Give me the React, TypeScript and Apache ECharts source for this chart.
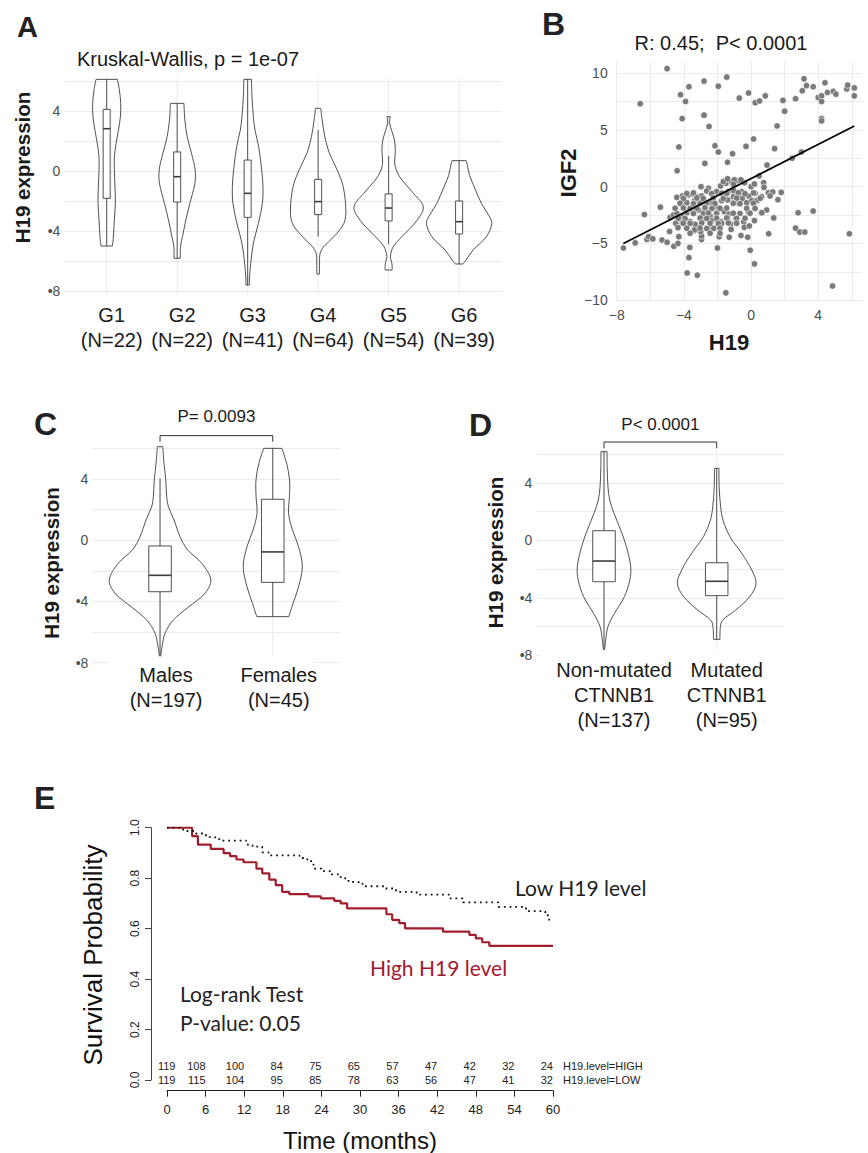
import React, { useEffect, useRef } from 'react';
import * as echarts from 'echarts';

const FONT = "'Liberation Sans', Arial, Helvetica, sans-serif";
const NARROW = "'Liberation Sans Narrow', 'Liberation Sans', Arial, sans-serif";
const CAL = "Lato, 'Open Sans', sans-serif";
const INK = '#1a1a1a';
const GRID = '#ebebeb';
const TICK = '#4d4d4d';

// ---------------- Panel A : H19 by group ----------------
const groupsA = ['G1', 'G2', 'G3', 'G4', 'G5', 'G6'];
const countsA = [22, 22, 41, 64, 54, 39];
// violin outlines: [H19 value, half width]
const violinG1 = [[6.11, 0.152], [5.4, 0.18], [4.5, 0.199], [3.6, 0.194], [2.7, 0.166], [1.8, 0.132], [0.95, 0.109], [0.05, 0.109], [-1.05, 0.118], [-2.15, 0.123], [-3.25, 0.109], [-4.4, 0.095], [-5.0, 0.081]];
const violinG2 = [[4.51, 0.096], [3.4, 0.109], [2.29, 0.142], [1.18, 0.203], [0.07, 0.255], [-0.82, 0.251], [-2.16, 0.18], [-3.27, 0.123], [-4.38, 0.075], [-5.04, 0.047], [-5.82, 0.045]];
const violinG3 = [[6.11, 0.054], [4.96, 0.061], [3.62, 0.081], [2.73, 0.104], [1.62, 0.156], [0.07, 0.199], [-1.04, 0.217], [-2.16, 0.209], [-3.49, 0.152], [-4.82, 0.081], [-6.16, 0.043], [-7.27, 0.024], [-7.6, 0.026]];
const violinG4 = [[4.18, 0.038], [3.4, 0.057], [2.29, 0.095], [1.18, 0.16], [0.07, 0.27], [-1.04, 0.355], [-2.6, 0.393], [-3.49, 0.365], [-4.38, 0.223], [-5.04, 0.081], [-5.49, 0.028], [-6.2, 0.02], [-6.87, 0.019]];
const violinG5 = [[3.62, 0.024], [3.2, 0.014], [2.6, 0.05], [2.0, 0.085], [1.3, 0.095], [0.6, 0.085], [0.0, 0.113], [-0.6, 0.189], [-1.5, 0.355], [-2.4, 0.492], [-3.3, 0.401], [-4.15, 0.237], [-5.0, 0.071], [-5.7, 0.026], [-6.2, 0.048], [-6.6, 0.05]];
const violinG6 = [[0.69, 0.102], [0.3, 0.121], [-0.3, 0.149], [-1.04, 0.213], [-2.16, 0.316], [-3.0, 0.426], [-3.49, 0.464], [-4.38, 0.387], [-5.27, 0.199], [-5.93, 0.099], [-6.2, 0.054]];
// boxes: [lower whisker, Q1, median, Q3, upper whisker]
const boxesA = [
  [-5.0, -1.82, 2.82, 4.11, 6.11],
  [-5.82, -2.07, -0.38, 1.27, 4.51],
  [-7.6, -3.09, -1.49, 0.73, 6.11],
  [-4.38, -2.91, -2.04, -0.56, 2.73],
  [-4.87, -3.33, -2.47, -1.53, 1.0],
  [-6.2, -4.2, -3.38, -2.0, 0.69],
];

// ---------------- Panel B : IGF2 vs H19 ----------------
const scatterB = [
  // upper points
  [-5.0, 10.4], [-6.6, 7.3], [-4.2, 8.1], [-3.7, 8.8], [-3.9, 7.5], [-4.1, 6.0], [-4.3, 3.5], [-4.4, 1.4],
  [-2.8, 9.3], [-2.8, 6.3], [-2.5, 5.3], [-2.75, 2.05], [-1.45, 9.65], [-1.95, 8.85], [-2.15, 3.6], [-1.95, 3.05],
  [-1.1, 2.9], [-1.4, 2.15], [-0.7, 7.8], [-0.15, 8.25], [-0.3, 3.55], [0.15, 4.2], [0.25, 7.4], [0.5, 7.55],
  [0.85, 8.0], [1.9, 7.6], [2.0, 6.65], [1.55, 5.35], [1.4, 3.35], [0.95, 1.9], [2.45, 2.5], [3.0, 3.05],
  [2.65, 7.75], [3.05, 8.45], [3.15, 9.5], [3.3, 8.9], [3.7, 8.8], [4.0, 7.85], [4.2, 8.0], [4.2, 7.5],
  [4.4, 9.15], [4.55, 8.3], [4.9, 8.4], [5.05, 8.15], [4.2, 6.0], [4.2, 5.8], [5.7, 8.6], [5.75, 8.95],
  [6.15, 8.7], [6.15, 8.0], [0.48, 0.94],
  // lower / scattered points
  [-7.6, -5.4], [-6.9, -4.95], [-6.35, -2.45], [-6.2, -4.65], [-6.1, -4.4], [-5.85, -4.6], [-5.4, -1.8], [-5.3, -4.7],
  [-5.0, -4.9], [-4.85, -3.95], [-4.6, -5.25], [-4.35, -5.0], [-4.3, -4.4], [-3.65, -5.35], [-3.7, -6.25], [-3.8, -7.6],
  [-3.2, -7.8], [-3.35, -3.85], [-2.95, -4.65], [-2.95, -4.35], [-3.0, -3.95], [-2.0, -5.4], [-1.9, -4.4], [-1.5, -9.35],
  [-1.3, -4.45], [-0.6, -4.3], [-0.2, -4.45], [-0.05, -5.6], [0.2, -6.8], [1.05, -4.15], [1.35, -2.75], [1.6, -1.15],
  [1.8, -0.5], [2.8, -2.3], [3.7, -2.15], [2.65, -3.65], [2.9, -4.0], [3.2, -4.0], [5.85, -4.15], [4.85, -8.75],
  // central cluster
  [-2.98, 0.0], [-2.54, -0.14], [-1.82, 0.06], [-1.49, 0.3], [-1.15, 0.44], [-0.83, 0.53], [-0.39, 0.35], [0.0, 0.0],
  [0.2, 0.24], [0.75, 0.35], [0.77, -0.06], [-1.65, 0.45], [-1.4, 0.7], [-1.0, 0.6], [-0.6, 0.6], [-1.05, 0.2],
  [-4.42, -0.94], [-4.09, -0.82], [-3.73, -0.73], [-3.49, -0.64], [-3.23, -0.88], [-2.94, -0.82], [-2.64, -0.38], [-2.35, -0.58],
  [-2.05, -0.44], [-1.75, -0.58], [-1.35, -0.44], [-1.03, -0.35], [-0.56, -0.44], [-0.13, -0.82], [0.24, -0.58], [0.63, -0.88],
  [1.03, -0.53], [1.29, -0.47], [1.13, -0.82],
  [-4.17, -1.52], [-3.83, -1.41], [-3.37, -1.23], [-3.04, -1.47], [-2.74, -1.61], [-2.38, -1.41], [-2.1, -1.76], [-1.75, -1.23],
  [-1.39, -1.17], [-1.05, -0.88], [-0.79, -1.41], [-0.52, -1.03], [-0.26, -1.41], [0.04, -1.23], [0.34, -1.23],
  [-4.82, -2.7], [-4.62, -2.49], [-4.42, -2.35], [-4.13, -2.58], [-3.83, -2.29], [-3.53, -2.11], [-3.13, -2.05], [-2.84, -2.35],
  [-2.44, -2.58], [-2.05, -2.35], [-1.59, -2.2], [-1.31, -2.41], [-0.91, -2.79], [-0.16, -2.23], [0.63, -2.29], [0.93, -2.05],
  [-4.48, -3.23], [-4.09, -3.17], [-3.63, -3.08], [-3.33, -3.32], [-2.88, -2.88], [-2.35, -2.99], [-1.79, -3.08], [-1.39, -2.79],
  [-1.21, -3.29], [-0.44, -3.08], [0.2, -2.99], [-4.35, -3.61], [-3.37, -3.81], [-2.48, -3.67], [-2.22, -3.67], [-1.75, -3.23],
  [-1.19, -3.76], [-0.4, -3.58], [-0.1, -3.46],
  [-3.83, -0.6], [-3.43, -0.55], [-2.34, -0.62], [-1.45, -0.6], [-0.76, -0.55], [-0.36, -0.62], [0.14, -0.55],
  [-4.03, -1.05], [-3.23, -1.0], [-2.84, -1.05], [-2.25, -1.0], [-1.65, -1.05], [-0.86, -1.0], [0.54, -1.02],
  [-4.23, -1.46], [-3.43, -1.5], [-2.64, -1.44], [-2.15, -1.48], [-1.06, -1.46], [-0.66, -1.5], [0.14, -1.46],
  [-4.52, -1.9], [-4.03, -1.88], [-3.63, -1.92], [-3.23, -1.9], [-2.74, -1.86], [-2.34, -1.92], [-1.85, -1.9], [-1.45, -1.88],
  [-0.26, -1.9], [0.24, -1.92], [-3.43, -2.36], [-2.54, -2.32], [-1.06, -2.34], [-0.66, -2.36], [-0.06, -2.34], [0.64, -2.3],
  [-4.33, -2.78], [-3.93, -2.8], [-3.04, -2.76], [-2.64, -2.8], [-2.05, -2.78], [-1.45, -2.76], [-0.86, -2.8], [-0.36, -2.78],
  [-4.03, -3.22], [-3.63, -3.24], [-2.94, -3.2], [-2.44, -3.22], [-1.95, -3.24], [-1.35, -3.2], [-0.86, -3.22],
  [-3.83, -3.66], [-3.04, -3.64], [-2.64, -3.68], [-1.85, -3.66], [-3.63, -4.1], [-2.44, -4.1], [-1.85, -4.1],
];
const fitLineB = [[-7.6, -5.0], [6.15, 5.35]];

// ---------------- Panel C : sex ----------------
const groupsC = ['Males', 'Females'];
const countsC = [197, 45];
const violinMales = [[6.12, 0.024], [5.03, 0.035], [3.94, 0.051], [2.85, 0.059], [2.2, 0.074], [1.33, 0.124], [0.24, 0.177], [-0.63, 0.245], [-1.5, 0.37], [-2.59, 0.45], [-3.46, 0.399], [-4.34, 0.257], [-5.21, 0.118], [-6.08, 0.044], [-6.95, 0.018], [-7.56, 0.006]];
const violinFemales = [[6.01, 0.08], [5.03, 0.123], [3.94, 0.149], [2.85, 0.148], [1.76, 0.14], [0.67, 0.175], [-0.42, 0.229], [-1.72, 0.262], [-3.03, 0.229], [-4.12, 0.18], [-4.99, 0.142]];
const boxesC = [
  [-7.56, -3.36, -2.29, -0.37, 4.03],
  [-4.99, -2.75, -0.76, 2.68, 6.01],
];
const testC = { from: 1, to: 2, level: 6.84, tickEnd: 6.44, textLevel: 8.12, label: 'P= 0.0093' };

// ---------------- Panel D : CTNNB1 ----------------
const groupsD = ['Non-mutated\nCTNNB1', 'Mutated\nCTNNB1'];
const countsD = [137, 95];
const violinNonMut = [[6.17, 0.027], [5.12, 0.028], [3.73, 0.035], [2.8, 0.051], [1.88, 0.089], [0.72, 0.148], [-0.45, 0.199], [-1.84, 0.237], [-2.76, 0.229], [-3.92, 0.181], [-5.08, 0.093], [-6.01, 0.035], [-6.94, 0.015], [-7.59, 0.006]];
const violinMut = [[5.01, 0.02], [3.73, 0.022], [2.34, 0.035], [1.41, 0.056], [0.25, 0.118], [-0.9, 0.222], [-2.07, 0.311], [-3.0, 0.349], [-3.92, 0.293], [-4.85, 0.169], [-5.55, 0.053], [-6.01, 0.033], [-6.89, 0.029]];
const boxesD = [
  [-7.59, -2.88, -1.44, 0.67, 6.17],
  [-6.89, -3.85, -2.85, -1.56, 5.01],
];
const testD = { from: 1, to: 2, level: 6.84, tickEnd: 6.4, textLevel: 8.07, label: 'P< 0.0001' };

// ---------------- Panel E : Kaplan-Meier ----------------
const kmHigh = [[0, 1], [3.9, 0.967], [4.8, 0.933], [6.8, 0.916], [8.8, 0.899], [9.8, 0.887], [10.8, 0.874], [11.9, 0.863], [13.9, 0.838], [14.8, 0.819], [15.9, 0.794], [16.9, 0.772], [17.9, 0.746], [19.0, 0.737], [22.0, 0.728], [23.9, 0.72], [26.0, 0.71], [27.0, 0.7], [28.0, 0.68], [34.1, 0.657], [35.0, 0.635], [36.1, 0.622], [37.0, 0.601], [42.9, 0.588], [47.0, 0.575], [48.0, 0.561], [49.0, 0.546], [50.1, 0.532], [60, 0.532]];
const kmLow = [[0, 1], [2.5, 0.987], [4.5, 0.977], [5.7, 0.97], [6.6, 0.963], [7.5, 0.955], [8.3, 0.949], [12.3, 0.933], [13.3, 0.925], [14.8, 0.902], [15.8, 0.89], [20.6, 0.88], [21.8, 0.874], [22.4, 0.854], [22.8, 0.838], [24.0, 0.828], [25.6, 0.815], [27.0, 0.799], [28.2, 0.785], [29.8, 0.778], [30.4, 0.768], [33.8, 0.759], [35.6, 0.746], [38.8, 0.735], [43.8, 0.72], [46.0, 0.704], [51.5, 0.686], [55.8, 0.669], [58.8, 0.653], [59.4, 0.631], [59.7, 0.631]];
const riskTimes = [0, 6, 12, 18, 24, 30, 36, 42, 48, 54, 60];
const riskHigh = [119, 108, 100, 84, 75, 65, 57, 47, 42, 32, 24];
const riskLow = [119, 115, 104, 95, 85, 78, 63, 56, 47, 41, 32];
const strata = ['H19.level=HIGH', 'H19.level=LOW'];

// ---------------- helpers ----------------
const minusFmt = (v: number) => (v < 0 ? '\u2212' + Math.abs(v) : String(v));
const bulletFmt = (v: number) => {
  if (v === 4 || v === 0) return String(v);
  if (v === -4 || v === -8) return '\u2022' + Math.abs(v);
  return '';
};

function txt(text: string, x: number, y: number, o: any = {}) {
  return {
    type: 'text', x, y, rotation: o.rotation || 0, z: 50,
    style: {
      text, fill: o.fill || INK, fontSize: o.size || 20, fontFamily: o.family || FONT,
      fontWeight: o.weight || 'normal',
      align: o.align || 'left', textAlign: o.align || 'left',
      verticalAlign: 'middle', textVerticalAlign: 'middle',
    },
  };
}

function violinSeries(idx: number, profiles: number[][][], boxes: number[][], boxHalf: number, labels: string[], cfg: any) {
  return {
    type: 'custom', xAxisIndex: idx, yAxisIndex: idx, clip: false, silent: true, z: 3,
    data: profiles.map((_, i) => [i + 1, 0]),
    renderItem: (params: any, api: any) => {
      const i = params.dataIndex;
      const c = i + 1;
      const P = (x: number, y: number) => api.coord([x, y]);
      const stroke = '#3d3d3d';
      const prof = profiles[i];
      const right = prof.map(([v, w]) => P(c + w, v));
      const left = prof.map(([v, w]) => P(c - w, v));
      const [lo, q1, med, q3, hi] = boxes[i];
      const children: any[] = [];
      if (cfg.mask && i === 0) {
        const a = P(cfg.mask[0], cfg.mask[2]);
        const b = P(cfg.mask[1], cfg.mask[3]);
        children.push({ type: 'rect', shape: { x: a[0], y: a[1], width: b[0] - a[0], height: b[1] - a[1] }, style: { fill: '#fff' } });
      }
      const g0 = P(c, cfg.gLo), g1 = P(c, cfg.gHi);
      children.push({ type: 'line', shape: { x1: g0[0], y1: g0[1], x2: g1[0], y2: g1[1] }, style: { stroke: GRID, lineWidth: 1 } });
      children.push({ type: 'polyline', shape: { points: right, smooth: 0.35 }, style: { stroke, fill: null, lineWidth: 0.9 } });
      children.push({ type: 'polyline', shape: { points: left, smooth: 0.35 }, style: { stroke, fill: null, lineWidth: 0.9 } });
      const n = prof.length - 1;
      children.push({ type: 'line', shape: { x1: left[0][0], y1: left[0][1], x2: right[0][0], y2: right[0][1] }, style: { stroke, lineWidth: 0.9 } });
      children.push({ type: 'line', shape: { x1: left[n][0], y1: left[n][1], x2: right[n][0], y2: right[n][1] }, style: { stroke, lineWidth: 0.9 } });
      const wHi = P(c, hi), wQ3 = P(c, q3), wQ1 = P(c, q1), wLo = P(c, lo);
      children.push({ type: 'line', shape: { x1: wHi[0], y1: wHi[1], x2: wQ3[0], y2: wQ3[1] }, style: { stroke, lineWidth: 0.9 } });
      children.push({ type: 'line', shape: { x1: wQ1[0], y1: wQ1[1], x2: wLo[0], y2: wLo[1] }, style: { stroke, lineWidth: 0.9 } });
      const tl = P(c - boxHalf, q3), br = P(c + boxHalf, q1);
      children.push({ type: 'rect', shape: { x: tl[0], y: tl[1], width: br[0] - tl[0], height: br[1] - tl[1] }, style: { fill: '#fff', stroke, lineWidth: 0.9 } });
      const m0 = P(c - boxHalf, med), m1 = P(c + boxHalf, med);
      children.push({ type: 'line', shape: { x1: m0[0], y1: m0[1], x2: m1[0], y2: m1[1] }, style: { stroke, lineWidth: 1.6 } });
      const lab = P(c, cfg.yMin);
      children.push({
        type: 'text', x: lab[0] + cfg.labelDx, y: lab[1] + cfg.labelDy,
        style: {
          text: labels[i], fill: INK, fontSize: 20, fontFamily: FONT, lineHeight: 25,
          align: 'center', textAlign: 'center', verticalAlign: 'top', textVerticalAlign: 'top',
        },
      });
      return { type: 'group', children };
    },
  };
}

function bracketSeries(idx: number, t: any) {
  return {
    type: 'custom', xAxisIndex: idx, yAxisIndex: idx, clip: false, silent: true, z: 3,
    data: [[t.from, t.level]],
    renderItem: (params: any, api: any) => {
      const a = api.coord([t.from, t.tickEnd]);
      const b = api.coord([t.from, t.level]);
      const c = api.coord([t.to, t.level]);
      const d = api.coord([t.to, t.tickEnd]);
      const m = api.coord([(t.from + t.to) / 2, t.textLevel]);
      return {
        type: 'group', children: [
          { type: 'polyline', shape: { points: [a, b, c, d] }, style: { stroke: '#333', lineWidth: 1, fill: null } },
          { type: 'text', x: m[0], y: m[1], style: { text: t.label, fill: INK, fontSize: 17, fontFamily: FONT, align: 'center', textAlign: 'center', verticalAlign: 'middle', textVerticalAlign: 'middle' } },
        ],
      };
    },
  };
}

function violinYAxis(idx: number, max: number) {
  return {
    gridIndex: idx, type: 'value', min: -8, max, interval: 2,
    axisLine: { show: false }, axisTick: { show: false },
    splitLine: { show: true, showMaxLine: false, lineStyle: { color: GRID, width: 1 } },
    axisLabel: { formatter: bulletFmt, color: TICK, fontSize: 14, fontFamily: FONT, margin: 4 },
  };
}

function buildOption() {
  const labelsA = groupsA.map((g, i) => `${g}\n(N=${countsA[i]})`);
  const labelsC = groupsC.map((g, i) => `${g}\n(N=${countsC[i]})`);
  const labelsD = groupsD.map((g, i) => `${g}\n(N=${countsD[i]})`);
  const riskData: number[][] = [];
  riskTimes.forEach((t, i) => riskData.push([t, 0, riskHigh[i], 0]));
  riskTimes.forEach((t, i) => riskData.push([t, 0, riskLow[i], 1]));

  return {
    animation: false,
    backgroundColor: '#fff',
    textStyle: { fontFamily: FONT },
    grid: [
      { left: 64.4, top: 78, width: 437, height: 213 },
      { left: 616.7, top: 61.8, width: 245.2, height: 238.4 },
      { left: 92.4, top: 443.9, width: 248, height: 218.8 },
      { left: 536.4, top: 449.8, width: 247.9, height: 205.5 },
      { left: 167, top: 827.7, width: 386, height: 252.3 },
    ],
    xAxis: [
      { gridIndex: 0, type: 'value', min: 0.4, max: 6.6, show: false },
      {
        gridIndex: 1, type: 'value', min: -8, max: 6.6, interval: 2,
        axisLine: { show: false }, axisTick: { show: false },
        splitLine: { show: true, showMaxLine: false, lineStyle: { color: GRID } },
        axisLabel: { formatter: (v: number) => (v % 4 === 0 ? minusFmt(v) : ''), color: TICK, fontSize: 14, fontFamily: FONT, margin: 8 },
      },
      { gridIndex: 2, type: 'value', min: 0.4, max: 2.6, show: false },
      { gridIndex: 3, type: 'value', min: 0.4, max: 2.6, show: false },
      {
        gridIndex: 4, type: 'value', min: 0, max: 60, interval: 6, offset: 10.7,
        axisLine: { show: true, onZero: false, lineStyle: { color: '#222', width: 1 } },
        axisTick: { show: true, length: 6, lineStyle: { color: '#222' } },
        splitLine: { show: false },
        axisLabel: { color: '#222', fontSize: 13, fontFamily: FONT, margin: 12 },
      },
    ],
    yAxis: [
      violinYAxis(0, 6.2),
      {
        gridIndex: 1, type: 'value', min: -10, max: 11, interval: 2.5,
        axisLine: { show: false }, axisTick: { show: false },
        splitLine: { show: true, showMaxLine: false, lineStyle: { color: GRID } },
        axisLabel: { formatter: (v: number) => (v % 5 === 0 ? minusFmt(v) : ''), color: TICK, fontSize: 14, fontFamily: FONT, margin: 9 },
      },
      violinYAxis(2, 6.3),
      violinYAxis(3, 6.3),
      {
        gridIndex: 4, type: 'value', min: 0, max: 1, interval: 0.2, offset: 16,
        axisLine: { show: true, onZero: false, lineStyle: { color: '#444', width: 1 } },
        axisTick: { show: true, length: 6, lineStyle: { color: '#444' } },
        splitLine: { show: false },
        axisLabel: { rotate: 90, formatter: (v: number) => v.toFixed(1), color: '#222', fontSize: 12, fontFamily: FONT, margin: 10 },
      },
    ],
    series: [
      violinSeries(0, [violinG1, violinG2, violinG3, violinG4, violinG5, violinG6], boxesA, 0.05, labelsA,
        { yMin: -8, gLo: -8.25, gHi: 6.2, labelDx: 5, labelDy: 11.5 }),
      {
        type: 'scatter', xAxisIndex: 1, yAxisIndex: 1, silent: true, data: scatterB, symbolSize: 6.5,
        itemStyle: { color: '#7a7a7a', borderColor: '#fff', borderWidth: 0.6, opacity: 1 },
      },
      {
        type: 'line', xAxisIndex: 1, yAxisIndex: 1, silent: true, data: fitLineB, symbol: 'none',
        lineStyle: { color: '#000', width: 1.8 }, z: 5,
      },
      violinSeries(2, [violinMales, violinFemales], boxesC, 0.1, labelsC,
        { yMin: -8, gLo: -7.55, gHi: 6.3, labelDx: 6, labelDy: 0, mask: [0.538, 2.36, -7.55, -11] }),
      bracketSeries(2, testC),
      violinSeries(3, [violinNonMut, violinMut], boxesD, 0.1, labelsD,
        { yMin: -8, gLo: -7.59, gHi: 6.3, labelDx: 10, labelDy: 2.2, mask: [0.432, 2.7, -7.56, -12] }),
      bracketSeries(3, testD),
      {
        type: 'line', xAxisIndex: 4, yAxisIndex: 4, silent: true, data: kmHigh, step: 'end', symbol: 'none',
        lineStyle: { color: '#a01d2b', width: 2.2 }, z: 4,
      },
      {
        type: 'line', xAxisIndex: 4, yAxisIndex: 4, silent: true, data: kmLow, step: 'end', symbol: 'none',
        lineStyle: { color: '#111', width: 1.8, type: [1.8, 3.9] }, z: 5,
      },
      {
        type: 'custom', xAxisIndex: 4, yAxisIndex: 4, clip: false, silent: true, z: 6,
        data: riskData,
        renderItem: (params: any, api: any) => {
          const t = api.value(0);
          const n = api.value(2);
          const row = api.value(3);
          const p = api.coord([t, 0]);
          const y = p[1] - (row === 0 ? 14 : 0);
          const x = p[0] + (t === 0 ? 8.5 : 0);
          const children: any[] = [{
            type: 'text', x, y,
            style: { text: String(n), fill: '#222', fontSize: 11, fontFamily: NARROW, align: 'right', textAlign: 'right', verticalAlign: 'middle', textVerticalAlign: 'middle' },
          }];
          if (t === 60) {
            children.push({
              type: 'text', x: p[0] + 10, y,
              style: { text: strata[row], fill: '#222', fontSize: 11, fontFamily: NARROW, align: 'left', textAlign: 'left', verticalAlign: 'middle', textVerticalAlign: 'middle' },
            });
          }
          return { type: 'group', children };
        },
      },
    ],
    graphic: [
      txt('A', 17, 27, { size: 29, weight: 'bold', fill: '#222' }),
      txt('B', 542, 24, { size: 32, weight: 'bold', fill: '#222' }),
      txt('C', 34, 424, { size: 32, weight: 'bold', fill: '#222' }),
      txt('D', 469, 425, { size: 32, weight: 'bold', fill: '#222' }),
      txt('E', 34, 798, { size: 32, weight: 'bold', fill: '#222' }),
      txt('Kruskal-Wallis, p = 1e-07', 77, 59, { size: 20 }),
      txt('H19 expression', 22.5, 167.5, { size: 20.5, weight: 'bold', align: 'center', rotation: Math.PI / 2 }),
      txt('R: 0.45;  P< 0.0001', 721, 43, { size: 20, align: 'center' }),
      txt('IGF2', 568, 173, { size: 22, weight: 'bold', align: 'center', rotation: Math.PI / 2 }),
      txt('H19', 729, 342, { size: 22, weight: 'bold', align: 'center' }),
      txt('H19 expression', 51.7, 563, { size: 20.5, weight: 'bold', align: 'center', rotation: Math.PI / 2 }),
      txt('H19 expression', 495, 552.5, { size: 20.5, weight: 'bold', align: 'center', rotation: Math.PI / 2 }),
      txt('Survival Probability', 93, 955, { size: 26, align: 'center', rotation: Math.PI / 2, fill: '#111' }),
      txt('Time (months)', 360, 1140, { size: 24, align: 'center', fill: '#111' }),
      txt('Low H19 level', 515, 887, { size: 21, family: CAL, fill: '#222' }),
      txt('High H19 level', 370, 967, { size: 21, family: CAL, fill: '#a3182f' }),
      txt('Log-rank Test', 180, 993, { size: 21, family: CAL, fill: '#222' }),
      txt('P-value: 0.05', 180, 1022, { size: 21, family: CAL, fill: '#222' }),
    ],
  };
}

export default function App() {
  const ref = useRef<HTMLDivElement>(null);
  useEffect(() => {
    if (!ref.current) return;
    const chart = echarts.init(ref.current, null, { renderer: 'svg' });
    chart.setOption(buildOption() as any);
    return () => chart.dispose();
  }, []);
  return (
    <div
      ref={ref}
      style={{ position: 'fixed', left: 0, top: 0, width: 868, height: 1153, background: '#fff' }}
    />
  );
}
